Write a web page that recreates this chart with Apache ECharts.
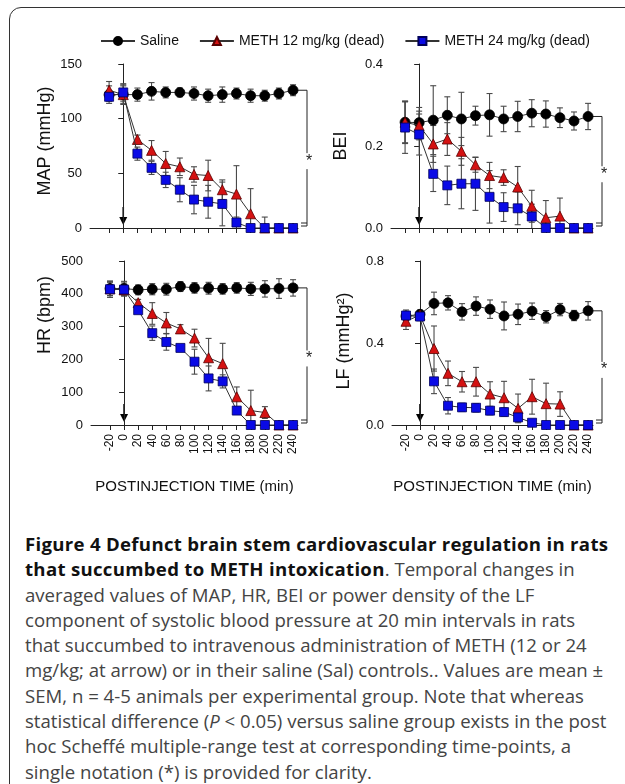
<!DOCTYPE html>
<html><head><meta charset="utf-8">
<script src="https://cdn.jsdelivr.net/npm/echarts@6/dist/echarts.min.js"></script>
<style>
html,body{margin:0;padding:0;width:625px;height:784px;overflow:hidden;background:#fff;}
#frame{position:absolute;left:9px;top:7px;width:700px;height:900px;border:1.5px solid #333;border-radius:12px;box-sizing:border-box;}
#chart{position:absolute;left:0;top:0;width:625px;height:505px;}
#caption{position:absolute;left:25px;top:531px;width:600px;font-family:'Open Sans',sans-serif;font-size:18.6px;line-height:25.3px;color:#444;white-space:nowrap;}
#caption b{color:#111;letter-spacing:0.3px;}
</style></head><body>
<div id="frame"></div>
<div id="chart"></div>
<div id="caption"><b>Figure 4 Defunct brain stem cardiovascular regulation in rats</b><br><b>that succumbed to METH intoxication</b>. Temporal changes in<br>averaged values of MAP, HR, BEI or power density of the LF<br>component of systolic blood pressure at 20 min intervals in rats<br>that succumbed to intravenous administration of METH (12 or 24<br>mg/kg; at arrow) or in their saline (Sal) controls.. Values are mean ±<br>SEM, n = 4-5 animals per experimental group. Note that whereas<br>statistical difference (<i>P</i> &lt; 0.05) versus saline group exists in the post<br>hoc Scheffé multiple-range test at corresponding time-points, a<br>single notation (*) is provided for clarity.</div>
<script>
// ---- data ----
const times = [-20, 0, 20, 40, 60, 80, 100, 120, 140, 160, 180, 200, 220, 240];
const seriesNames = ['Saline', 'METH 12 mg/kg (dead)', 'METH 24 mg/kg (dead)'];
const xAxisTitle = 'POSTINJECTION TIME (min)';

const mapSal    = [122, 122, 122, 125, 124, 124, 123, 121, 122, 123, 121, 121, 123, 126];
const mapSalErr = [8, 9, 6, 8, 5, 4, 6, 6, 7, 5, 6, 5, 5, 5];
const mapM12    = [126, 122, 81, 71, 59, 56, 49, 48, 35, 31, 13, 0, 0, 0];
const mapM12Err = [8, 8, 4, 9, 11, 8, 7, 14, 9, 26, 23, 10, 0, 0];
const mapM24    = [120, 124, 68, 55, 44, 35, 26, 24, 22, 5, 0, 0, 0, 0];
const mapM24Err = [4, 8, 6, 6, 7, 11, 13, 15, 20, 5, 0, 0, 0, 0];

const beiSal    = [0.258, 0.257, 0.263, 0.275, 0.266, 0.274, 0.276, 0.266, 0.272, 0.280, 0.278, 0.269, 0.261, 0.272];
const beiSalErr = [0.052, 0.037, 0.084, 0.045, 0.065, 0.023, 0.052, 0.031, 0.037, 0.033, 0.032, 0.024, 0.022, 0.032];
const beiM12    = [0.258, 0.250, 0.205, 0.217, 0.187, 0.154, 0.128, 0.123, 0.100, 0.053, 0.025, 0.029, 0, 0];
const beiM12Err = [0.05, 0.035, 0.045, 0.04, 0.034, 0.018, 0.032, 0.019, 0.05, 0.039, 0.042, 0.044, 0, 0];
const beiM24    = [0.245, 0.228, 0.132, 0.104, 0.108, 0.108, 0.076, 0.051, 0.048, 0.028, 0, 0, 0, 0];
const beiM24Err = [0.063, 0.05, 0.043, 0.047, 0.061, 0.065, 0.064, 0.035, 0.04, 0.03, 0, 0, 0, 0];

const hrSal    = [416, 416, 412, 414, 414, 422, 418, 417, 415, 418, 415, 415, 416, 418];
const hrSalErr = [22, 22, 15, 17, 18, 15, 16, 18, 16, 16, 20, 25, 30, 25];
const hrM12    = [415, 412, 373, 340, 311, 293, 265, 205, 187, 86, 44, 38, 0, 0];
const hrM12Err = [20, 15, 10, 33, 32, 13, 27, 59, 62, 30, 62, 18, 0, 0];
const hrM24    = [414, 413, 350, 280, 253, 235, 193, 142, 133, 44, 0, 0, 0, 0];
const hrM24Err = [25, 20, 10, 22, 25, 8, 38, 38, 20, 10, 0, 0, 0, 0];

const lfSal    = [0.531, 0.540, 0.593, 0.596, 0.552, 0.580, 0.565, 0.532, 0.540, 0.555, 0.528, 0.563, 0.534, 0.557];
const lfSalErr = [0.03, 0.02, 0.055, 0.035, 0.04, 0.045, 0.045, 0.068, 0.05, 0.04, 0.03, 0.03, 0.025, 0.045];
const lfM12    = [0.506, 0.536, 0.373, 0.252, 0.211, 0.211, 0.151, 0.133, 0.081, 0.138, 0.104, 0.102, 0, 0];
const lfM12Err = [0.04, 0.02, 0.11, 0.06, 0.05, 0.07, 0.06, 0.08, 0.07, 0.085, 0.1, 0.06, 0, 0];
const lfM24    = [0.534, 0.529, 0.213, 0.094, 0.086, 0.084, 0.070, 0.063, 0.037, 0.011, 0, 0, 0, 0];
const lfM24Err = [0.02, 0.02, 0.06, 0.04, 0.02, 0.02, 0.02, 0.02, 0.02, 0.01, 0, 0, 0, 0];

// ---- panel setup ----
const panels = [
  {yName: 'MAP (mmHg)', max: 150, interval: 50, dec: 0, nameGap: 36, namePad: [0, 0, 0, 10], vals: [[mapSal, mapSalErr], [mapM12, mapM12Err], [mapM24, mapM24Err]], grid: {left: 90, top: 64, width: 208, height: 164}, xMin: -47, bottom: false},
  {yName: 'BEI', max: 0.4, interval: 0.2, dec: 1, nameGap: 41, namePad: [0, 0, 0, 0], vals: [[beiSal, beiSalErr], [beiM12, beiM12Err], [beiM24, beiM24Err]], grid: {left: 391, top: 64, width: 202, height: 164}, xMin: -40, bottom: false},
  {yName: 'HR (bpm)', max: 500, interval: 100, dec: 0, nameGap: 37, namePad: [0, 0, 0, 56], vals: [[hrSal, hrSalErr], [hrM12, hrM12Err], [hrM24, hrM24Err]], grid: {left: 91, top: 261, width: 207, height: 164}, xMin: -47, bottom: true},
  {yName: 'LF (mmHg²)', max: 0.8, interval: 0.4, dec: 1, nameGap: 39, namePad: [0, 0, 0, 4], vals: [[lfSal, lfSalErr], [lfM12, lfM12Err], [lfM24, lfM24Err]], grid: {left: 392, top: 261, width: 201, height: 164}, xMin: -40, bottom: true}
];

const styles = [
  {symbol: 'circle', size: 10, color: '#000000', border: '#000000'},
  {symbol: 'triangle', size: 10, color: '#d41212', border: '#5a0000'},
  {symbol: 'rect', size: 9, color: '#0a0ae6', border: '#00005a'}
];

const FONT = 'Liberation Sans';
const AX = '#222';

function errRender(params, api) {
  const x = api.value(0), v = api.value(1), e = api.value(2);
  if (!e) return null;
  const lo = Math.max(0, v - e);
  const p1 = api.coord([x, v + e]);
  const p0 = api.coord([x, lo]);
  const cw = 3;
  const st = {stroke: '#4a4a4a', lineWidth: 1.1};
  const ch = [
    {type: 'line', shape: {x1: p1[0], y1: p1[1], x2: p0[0], y2: p0[1]}, style: st},
    {type: 'line', shape: {x1: p1[0] - cw, y1: p1[1], x2: p1[0] + cw, y2: p1[1]}, style: st}
  ];
  if (lo > 0) ch.push({type: 'line', shape: {x1: p0[0] - cw, y1: p0[1], x2: p0[0] + cw, y2: p0[1]}, style: st});
  return {type: 'group', children: ch};
}

const grid = [], xAxis = [], yAxis = [], series = [];
panels.forEach((p, i) => {
  grid.push(p.grid);
  xAxis.push({
    gridIndex: i, type: 'value', min: p.xMin, max: 247,
    axisLine: {show: true, lineStyle: {color: AX, width: 1}},
    axisTick: {show: true, customValues: times, length: 5, lineStyle: {color: AX}},
    axisLabel: {show: p.bottom, customValues: times, rotate: 90, fontSize: 12, margin: 9, color: '#111', fontFamily: FONT},
    splitLine: {show: false},
    name: p.bottom ? xAxisTitle : '', nameLocation: 'middle', nameGap: 54,
    nameTextStyle: {fontSize: 15, color: '#111', fontFamily: FONT}
  });
  yAxis.push({
    gridIndex: i, type: 'value', min: 0, max: p.max, interval: p.interval,
    axisLine: {show: true, lineStyle: {color: AX, width: 1}},
    axisTick: {show: true, length: 5, lineStyle: {color: AX}},
    axisLabel: {fontSize: 13, margin: 8, color: '#111', fontFamily: FONT, formatter: v => v.toFixed(p.dec)},
    splitLine: {show: false},
    name: p.yName, nameLocation: 'middle', nameGap: p.nameGap,
    nameTextStyle: {fontSize: 18, color: '#111', fontFamily: FONT, padding: p.namePad}
  });
  p.vals.forEach(([v, e]) => {
    series.push({
      type: 'custom', xAxisIndex: i, yAxisIndex: i, silent: true, z: 2,
      data: times.map((t, j) => [t, v[j], e[j]]),
      encode: {x: 0, y: 1}, renderItem: errRender
    });
  });
  p.vals.forEach(([v], k) => {
    const s = styles[k];
    series.push({
      type: 'line', name: seriesNames[k], xAxisIndex: i, yAxisIndex: i, z: 3 + k,
      data: times.map((t, j) => [t, v[j]]),
      symbol: s.symbol, symbolSize: s.size, showAllSymbol: true,
      itemStyle: {color: s.color, borderColor: s.border, borderWidth: 0.8},
      lineStyle: {color: '#333', width: 1}
    });
  });
});

const chart = echarts.init(document.getElementById('chart'), null, {renderer: 'canvas'});
chart.setOption({
  animation: false,
  legend: {
    data: seriesNames, top: 29, left: 95, itemWidth: 34, itemHeight: 10, itemGap: 20,
    textStyle: {fontSize: 14, color: '#111', fontFamily: FONT}
  },
  grid, xAxis, yAxis, series
});

// annotations: arrows at injection time, significance brackets
const g = [];
panels.forEach((p, i) => {
  const conv = v => chart.convertToPixel({xAxisIndex: i, yAxisIndex: i}, v);
  const sal = p.vals[0][0];
  const top = conv([240, sal[sal.length - 1]]);
  const zero = conv([240, 0]);
  const endX = p.grid.left + p.grid.width;
  const bx = endX + 9;
  const st = {stroke: '#222', lineWidth: 1};
  g.push({type: 'line', shape: {x1: bx, y1: top[1], x2: bx, y2: zero[1] - 2}, style: st});
  g.push({type: 'line', shape: {x1: endX, y1: top[1], x2: bx, y2: top[1]}, style: st});
  g.push({type: 'line', shape: {x1: bx - 6, y1: zero[1] - 2, x2: bx, y2: zero[1] - 2}, style: st});
  g.push({type: 'line', shape: {x1: bx - 6, y1: zero[1] - 5, x2: bx, y2: zero[1] - 5}, style: st});
  g.push({type: 'text', x: bx + 2, y: (top[1] + zero[1]) / 2 + 2, style: {text: '*', fontSize: 16, fill: '#222', fontFamily: FONT, align: 'center', verticalAlign: 'middle', backgroundColor: '#fff'}});
  const a = conv([0, 0]);
  g.push({type: 'line', shape: {x1: a[0], y1: a[1] - 21, x2: a[0], y2: a[1] - 9}, style: {stroke: '#000', lineWidth: 1.6}});
  g.push({type: 'polygon', shape: {points: [[a[0] - 4, a[1] - 11], [a[0] + 4, a[1] - 11], [a[0], a[1] - 3]]}, style: {fill: '#000'}});
});
chart.setOption({graphic: g});
</script>
</body></html>
